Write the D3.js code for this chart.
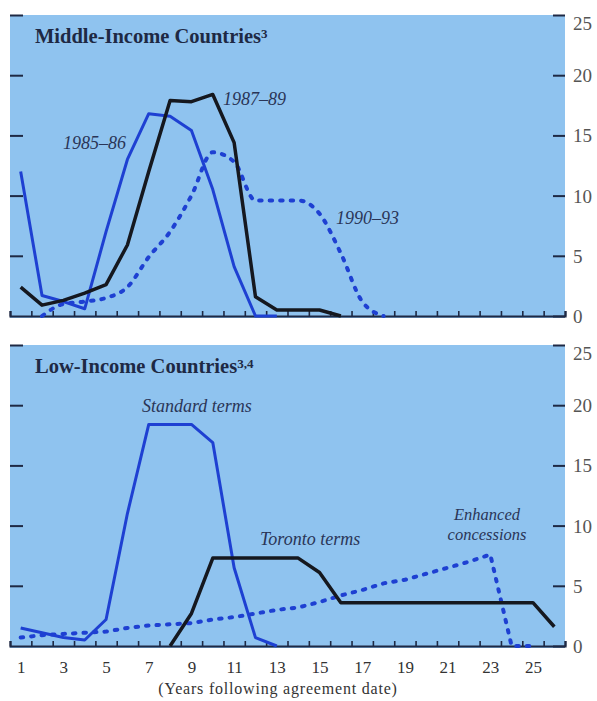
<!DOCTYPE html>
<html>
<head>
<meta charset="utf-8">
<script src="https://cdn.jsdelivr.net/npm/d3@7"></script>
<style>
  body { margin: 0; background: #fff; }
  text { font-family: "Liberation Serif", "DejaVu Serif", serif; }
</style>
</head>
<body>
<div id="chart"></div>
<script>
// values (percent), one value per year
var midYears8586 = d3.range(1, 14);   // 1..13
var mid8586 = [12, 1.7, 1.2, 0.6, 7.0, 13.0, 16.8, 16.6, 15.4, 10.5, 4.1, 0, 0];
var midYears8789 = d3.range(1, 17);   // 1..16
var mid8789 = [2.4, 0.9, 1.3, 1.9, 2.6, 5.9, 12.0, 17.9, 17.8, 18.4, 14.4, 1.6, 0.5, 0.5, 0.5, 0];
var midYears9093 = d3.range(2, 19);   // 2..18
var mid9093 = [0, 1.0, 1.2, 1.5, 2.4, 4.9, 7.0, 10.0, 13.6, 12.8, 9.6, 9.6, 9.6, 8.5, 5.2, 1.2, 0];

var lowYearsStandard = d3.range(1, 14); // 1..13
var lowStandard = [1.5, 1.1, 0.7, 0.5, 2.2, 11.0, 18.4, 18.4, 18.4, 16.9, 6.5, 0.7, 0];
var lowYearsToronto = d3.range(8, 27);  // 8..26
var lowToronto = [0, 2.7, 7.3, 7.3, 7.3, 7.3, 7.3, 6.1, 3.6, 3.6, 3.6, 3.6, 3.6, 3.6, 3.6, 3.6, 3.6, 3.6, 1.6];
var lowYearsEnhanced = d3.range(1, 26); // 1..25
var lowEnhanced = [0.7, 0.9, 1.0, 1.1, 1.2, 1.5, 1.7, 1.8, 1.9, 2.2, 2.4, 2.7, 3.0, 3.2, 3.65,
                   4.2, 4.65, 5.2, 5.5, 6.0, 6.5, 7.0, 7.6, 0, 0];

var yTicks = [0, 5, 10, 15, 20, 25];
var xTickLabels = [1, 3, 5, 7, 9, 11, 13, 15, 17, 19, 21, 23, 25];

var blue = "#1e40d2", black = "#15181f", navy = "#1e2944", panelFill = "#8fc3ef";

var width = 597, height = 701;
var svg = d3.select("#chart").append("svg")
  .attr("width", width)
  .attr("height", height);

var x = d3.scaleLinear().domain([0.5, 26.5]).range([10, 565]);

function zip(years, vals) {
  return years.map(function(yr, i) { return { year: yr, v: vals[i] }; });
}

function drawPanel(top, bottom, showLabels) {
  var y = d3.scaleLinear().domain([0, 25]).range([bottom, top]);
  var g = svg.append("g");

  g.append("rect")
    .attr("x", x.range()[0])
    .attr("y", top)
    .attr("width", x.range()[1] - x.range()[0])
    .attr("height", bottom - top + 2)
    .attr("fill", panelFill);

  // left tick dashes
  g.append("g")
    .attr("class", "y axis")
    .attr("transform", "translate(" + x.range()[0] + ",0)")
    .call(d3.axisLeft(y).tickValues(yTicks.slice(1)).tickSize(-13).tickFormat(""))
    .call(function(a) { a.select(".domain").remove(); })
    .selectAll("line").attr("stroke", navy).attr("stroke-width", 2);

  // right ticks + labels
  var right = g.append("g")
    .attr("class", "y axis")
    .attr("transform", "translate(" + x.range()[1] + ",0)")
    .call(d3.axisRight(y).tickValues(yTicks).tickSize(-12).tickPadding(8));
  right.select(".domain").remove();
  right.selectAll("line").attr("stroke", navy).attr("stroke-width", 2);
  right.selectAll("text")
    .attr("fill", "#555")
    .style("font-size", "19px")
    .attr("dy", function(d) { return d == 25 ? "0.75em" : "0.34em"; });

  // x axis with half-year ticks
  var xa = g.append("g")
    .attr("class", "x axis")
    .attr("transform", "translate(0," + y(0) + ")")
    .call(d3.axisBottom(x).tickValues(d3.range(0.5, 27, 1)).tickSize(-5).tickFormat(""));
  xa.select(".domain").attr("stroke", navy).attr("stroke-width", 2.2);
  xa.selectAll("line").attr("stroke", navy).attr("stroke-width", 1.6);

  if (showLabels) {
    var xl = g.append("g")
      .attr("transform", "translate(0," + y(0) + ")")
      .call(d3.axisBottom(x).tickValues(xTickLabels).tickSize(0).tickPadding(15));
    xl.select(".domain").remove();
    xl.selectAll("text").attr("fill", "#333").style("font-size", "17px");
  }
  return y;
}

var yTop = drawPanel(15, 316, false);
var yBot = drawPanel(345, 646, true);

function addLine(y, data, color, w, dotted, curve) {
  var line = d3.line()
    .x(function(d) { return x(d.year); })
    .y(function(d) { return y(d.v); })
    .curve(curve || d3.curveLinear);
  var p = svg.append("path")
    .datum(data)
    .attr("fill", "none")
    .attr("stroke", color)
    .attr("stroke-width", w)
    .attr("stroke-linejoin", "round")
    .attr("d", line);
  if (dotted) {
    p.attr("stroke-dasharray", "2.5,8").attr("stroke-linecap", "round");
  }
}

// middle-income panel
addLine(yTop, zip(midYears9093, mid9093), blue, 4, true, d3.curveMonotoneX);
addLine(yTop, zip(midYears8586, mid8586), blue, 3);
addLine(yTop, zip(midYears8789, mid8789), black, 3.5);

// low-income panel
addLine(yBot, zip(lowYearsEnhanced, lowEnhanced), blue, 4, true);
addLine(yBot, zip(lowYearsStandard, lowStandard), blue, 3);
addLine(yBot, zip(lowYearsToronto, lowToronto), black, 3.5);

// titles
function title(txt, sup, yPos) {
  var t = svg.append("text")
    .attr("x", 35).attr("y", yPos)
    .attr("fill", navy)
    .style("font-size", "20.5px")
    .style("font-weight", "bold")
    .text(txt);
  t.append("tspan")
    .attr("dy", "-0.42em")
    .style("font-size", "13px")
    .text(sup);
}
title("Middle-Income Countries", "3", 43);
title("Low-Income Countries", "3,4", 373);

// series labels
var labels = [
  { t: "1985\u201386", x: 63, y: 149, anchor: "start", size: 18 },
  { t: "1987\u201389", x: 223, y: 105, anchor: "start", size: 18 },
  { t: "1990\u201393", x: 336, y: 224, anchor: "start", size: 18 },
  { t: "Standard terms", x: 142, y: 412, anchor: "start", size: 18 },
  { t: "Toronto terms", x: 260, y: 545, anchor: "start", size: 18 },
  { t: "Enhanced", x: 487, y: 520, anchor: "middle", size: 16.5 },
  { t: "concessions", x: 487, y: 540, anchor: "middle", size: 16.5 }
];
svg.selectAll(".series-label")
  .data(labels)
  .enter().append("text")
  .attr("class", "series-label")
  .attr("x", function(d) { return d.x; })
  .attr("y", function(d) { return d.y; })
  .attr("text-anchor", function(d) { return d.anchor; })
  .attr("fill", "#2a3557")
  .style("font-size", function(d) { return d.size + "px"; })
  .style("font-style", "italic")
  .text(function(d) { return d.t; });

svg.append("text")
  .attr("x", 278).attr("y", 694)
  .attr("text-anchor", "middle")
  .attr("fill", "#333")
  .style("font-size", "16px")
  .style("letter-spacing", "0.8px")
  .text("(Years following agreement date)");
</script>
</body>
</html>
